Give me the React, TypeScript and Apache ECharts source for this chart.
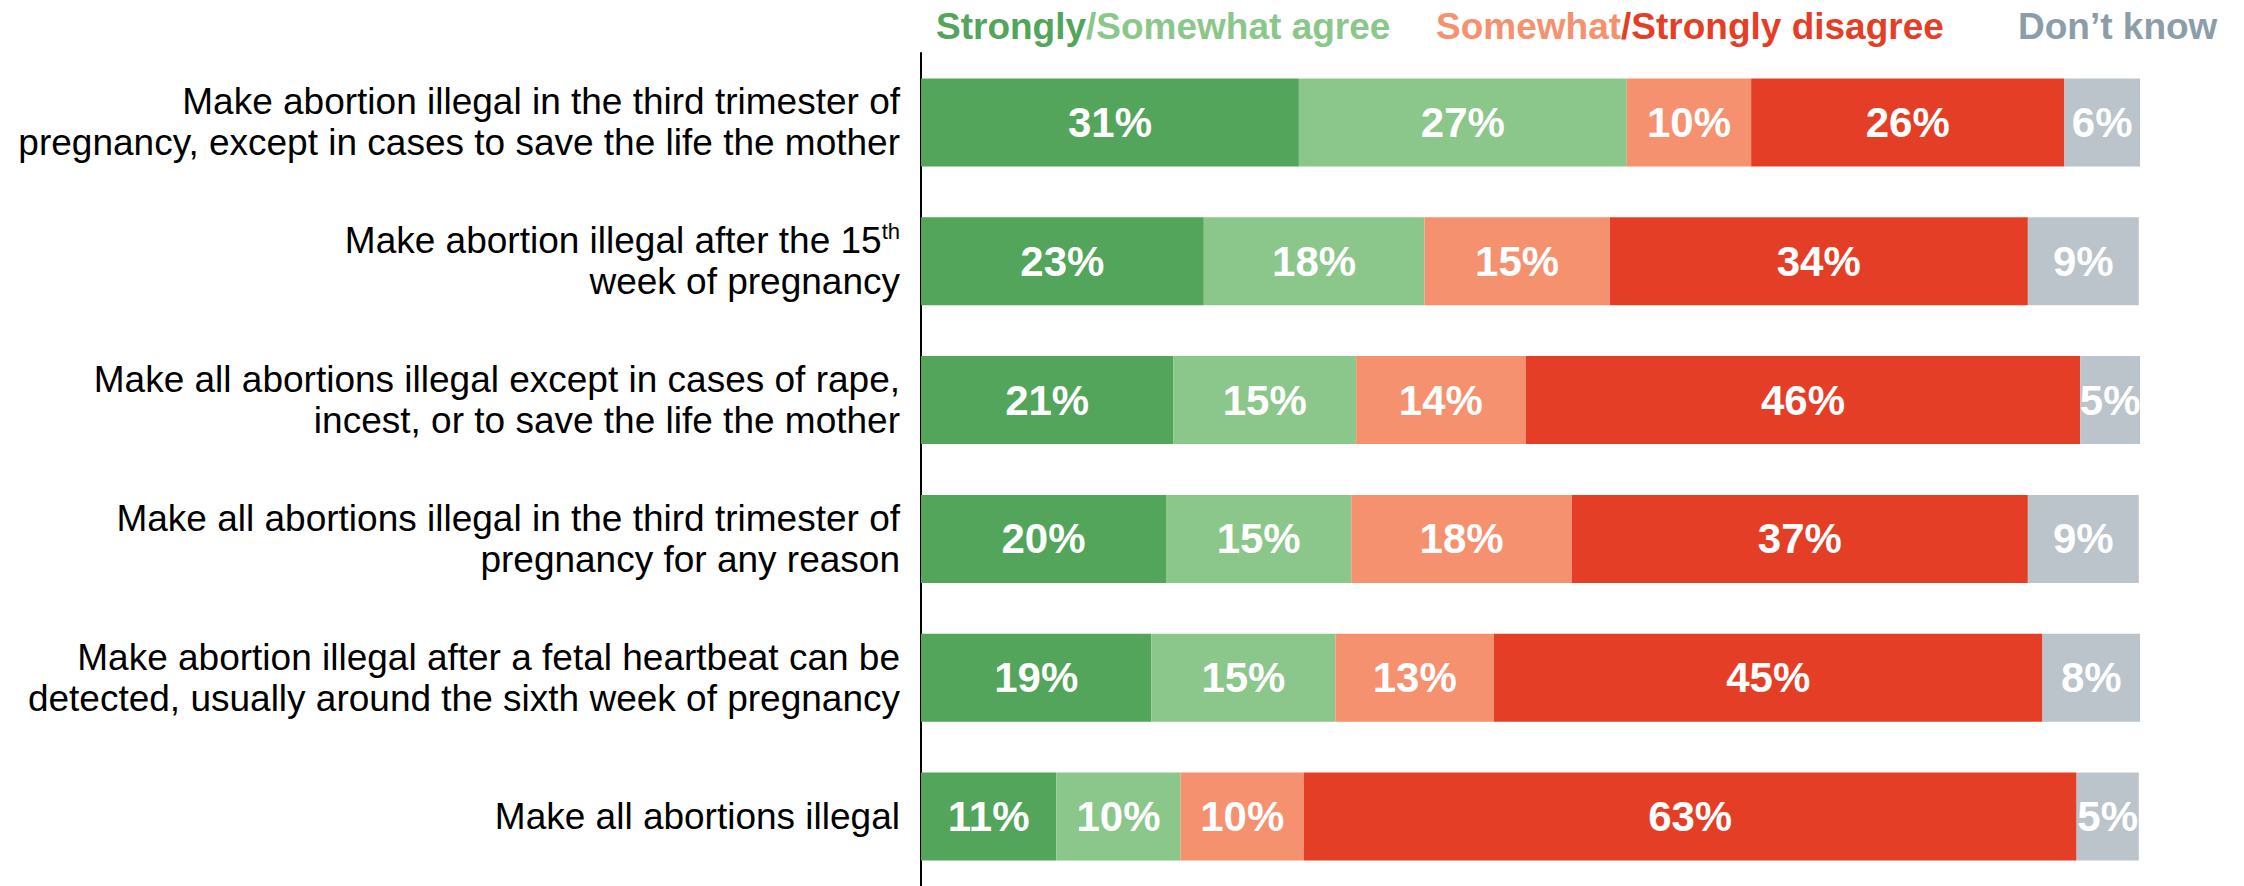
import React, { useEffect, useRef } from "react";
import * as echarts from "echarts";

const categories = [
  "Make abortion illegal in the third trimester of\npregnancy, except in cases to save the life the mother",
  "Make abortion illegal after the 15{sup|th}\nweek of pregnancy",
  "Make all abortions illegal except in cases of rape,\nincest, or to save the life the mother",
  "Make all abortions illegal in the third trimester of\npregnancy for any reason",
  "Make abortion illegal after a fetal heartbeat can be\ndetected, usually around the sixth week of pregnancy",
  "Make all abortions illegal",
];

const stronglyAgree = [31.0, 23.2, 20.7, 20.1, 18.9, 11.1];
const somewhatAgree = [26.9, 18.1, 15.0, 15.2, 15.1, 10.2];
const somewhatDisagree = [10.2, 15.2, 13.9, 18.1, 13.0, 10.1];
const stronglyDisagree = [25.7, 34.3, 45.5, 37.4, 45.0, 63.4];
const dontKnow = [6.2, 9.1, 5.0, 9.1, 8.0, 5.1];

const seriesNames = [
  "Strongly agree",
  "Somewhat agree",
  "Somewhat disagree",
  "Strongly disagree",
  "Don't know",
];
const seriesData = [stronglyAgree, somewhatAgree, somewhatDisagree, stronglyDisagree, dontKnow];
const seriesColors = ["#52A55A", "#8BC78A", "#F6916F", "#E53E27", "#BAC4CA"];

const FONT = "'Liberation Sans', Arial, Helvetica, sans-serif";

export default function App() {
  const ref = useRef<HTMLDivElement>(null);

  useEffect(() => {
    if (!ref.current) return;
    const chart = echarts.init(ref.current, null, { renderer: "svg" });
    chart.setOption({
      animation: false,
      backgroundColor: "#ffffff",
      grid: { left: 921, right: 104, top: 53, height: 837, containLabel: false },
      xAxis: { type: "value", min: 0, max: 100, show: false },
      yAxis: {
        type: "category",
        inverse: true,
        data: categories,
        axisLine: { show: true, lineStyle: { color: "#000000", width: 2 } },
        axisTick: { show: false },
        splitLine: { show: false },
        axisLabel: {
          margin: 21,
          fontSize: 37,
          lineHeight: 41,
          color: "#000000",
          fontFamily: FONT,
          align: "right",
          rich: {
            sup: {
              fontSize: 22,
              lineHeight: 22,
              verticalAlign: "top",
              color: "#000000",
              fontFamily: FONT,
            },
          },
        },
      },
      graphic: [
        {
          type: "text",
          left: 936,
          top: 8,
          style: {
            text: "{a|Strongly}{b|/Somewhat agree}",
            rich: {
              a: { fill: "#52A55A", fontSize: 37, fontWeight: "bold", fontFamily: FONT },
              b: { fill: "#8BC78A", fontSize: 37, fontWeight: "bold", fontFamily: FONT },
            },
          },
        },
        {
          type: "text",
          left: 1436,
          top: 8,
          style: {
            text: "{a|Somewhat}{b|/Strongly disagree}",
            rich: {
              a: { fill: "#F6916F", fontSize: 37, fontWeight: "bold", fontFamily: FONT },
              b: { fill: "#E53E27", fontSize: 37, fontWeight: "bold", fontFamily: FONT },
            },
          },
        },
        {
          type: "text",
          left: 2018,
          top: 8,
          style: {
            text: "Don\u2019t know",
            fill: "#8C9DAA",
            fontSize: 37,
            fontWeight: "bold",
            fontFamily: FONT,
          },
        },
      ],
      series: seriesData.map((d, i) => ({
        name: seriesNames[i],
        type: "bar",
        stack: "total",
        barWidth: 88,
        data: d,
        itemStyle: { color: seriesColors[i] },
        label: {
          show: true,
          position: "inside",
          color: "#ffffff",
          fontWeight: "bold",
          fontSize: 42,
          fontFamily: FONT,
          formatter: (p: any) => Math.round(p.value) + "%",
        },
      })),
    });
    return () => chart.dispose();
  }, []);

  return (
    <div
      ref={ref}
      style={{ position: "fixed", left: 0, top: 0, width: 2244, height: 886 }}
    />
  );
}
